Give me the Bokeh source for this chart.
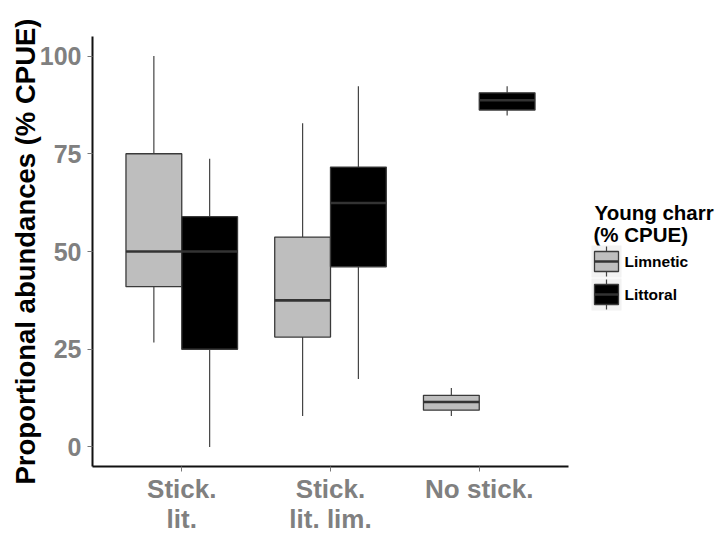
from bokeh.plotting import figure
from bokeh.layouts import row
from bokeh.models import Range1d, FixedTicker, ColumnDataSource
from bokeh.embed import file_html
from bokeh.resources import INLINE
from bokeh.core.properties import value

# Site categories along the x axis
categories = ["Stick.\nlit.", "Stick.\nlit. lim.", "No stick."]
positions = [1, 2, 3]

# Box-plot summaries (% CPUE): lower whisker, Q1, median, Q3, upper whisker
limnetic_low = [26.7, 7.9, 7.9]
limnetic_q1 = [41.0, 28.1, 9.4]
limnetic_median = [50.0, 37.5, 11.5]
limnetic_q3 = [75.0, 53.7, 13.2]
limnetic_high = [100.0, 82.8, 15.1]

littoral_low = [0.0, 17.4, 84.8]
littoral_q1 = [25.0, 46.1, 86.2]
littoral_median = [50.0, 62.4, 88.7]
littoral_q3 = [58.9, 71.6, 90.6]
littoral_high = [73.7, 92.3, 92.3]

series_names = ["Limnetic", "Littoral"]
y_ticks = [0, 25, 50, 75, 100]

FONT = "Liberation Sans"
BOX_W = 0.375
OUTLINE = "#3a3a3a"
fills = {"Limnetic": "#bebebe", "Littoral": "#000000"}

# frame geometry shared by the plot and the legend panel
TOP, FRAME_H, BOTTOM = 36, 430, 67

p = figure(
    frame_width=476, frame_height=FRAME_H,
    x_range=Range1d(0.4, 3.6), y_range=Range1d(-5, 105),
    output_backend="svg", toolbar_location=None,
    min_border_left=92, min_border_top=TOP, min_border_bottom=BOTTOM, min_border_right=12,
)

series = {
    "Limnetic": (limnetic_low, limnetic_q1, limnetic_median, limnetic_q3, limnetic_high, -BOX_W / 2),
    "Littoral": (littoral_low, littoral_q1, littoral_median, littoral_q3, littoral_high, BOX_W / 2),
}

for name in series_names:
    low, q1, med, q3, high, offset = series[name]
    xs = [x + offset for x in positions]
    src = ColumnDataSource(dict(
        x=xs,
        left=[x - BOX_W / 2 for x in xs],
        right=[x + BOX_W / 2 for x in xs],
        low=low, q1=q1, med=med, q3=q3, high=high,
    ))
    # whiskers
    p.segment(x0="x", x1="x", y0="low", y1="q1", source=src, line_color="#444444", line_width=1.2)
    p.segment(x0="x", x1="x", y0="q3", y1="high", source=src, line_color="#444444", line_width=1.2)
    # boxes
    p.quad(left="left", right="right", bottom="q1", top="q3", source=src,
           fill_color=fills[name], line_color=OUTLINE, line_width=1.3)
    # medians
    p.segment(x0="left", x1="right", y0="med", y1="med", source=src,
              line_color="#333333", line_width=2.6)

p.xgrid.visible = False
p.ygrid.visible = False
p.outline_line_color = None

p.xaxis.ticker = FixedTicker(ticks=positions)
p.xaxis.major_label_overrides = dict(zip(positions, categories))
p.yaxis.ticker = FixedTicker(ticks=y_ticks)

for ax in (p.xaxis[0], p.yaxis[0]):
    ax.axis_line_width = 2
    ax.axis_line_color = "#111111"
    ax.major_tick_in = 0
    ax.major_tick_out = 5
    ax.major_tick_line_color = "#777777"
    ax.minor_tick_line_color = None
    ax.major_label_text_font = FONT
    ax.major_label_text_font_style = "bold"
    ax.major_label_text_color = "#808080"

p.xaxis.major_label_text_font_size = "26px"
p.xaxis.major_label_text_line_height = 1.0
p.xaxis.major_label_standoff = 2
p.yaxis.major_label_text_font_size = "25px"
p.yaxis.major_label_standoff = 6

p.yaxis.axis_label = "Proportional abundances (% CPUE)"
p.yaxis.axis_label_text_font = FONT
p.yaxis.axis_label_text_font_size = "27.5px"
p.yaxis.axis_label_text_font_style = "bold"
p.yaxis.axis_label_text_color = "black"
p.yaxis.axis_label_standoff = -4

# Legend panel; its frame lines up with the plot frame, so the y range
# below maps straight onto page pixels (downwards)
leg = figure(frame_width=141, frame_height=FRAME_H,
             x_range=Range1d(580, 721), y_range=Range1d(TOP + FRAME_H, TOP),
             output_backend="svg", toolbar_location=None,
             min_border_left=0, min_border_right=0,
             min_border_top=TOP, min_border_bottom=BOTTOM)
leg.axis.visible = False
leg.grid.visible = False
leg.outline_line_color = None

leg.text(x=[594, 593], y=[212, 234], text=["Young charr", "(% CPUE)"],
         text_font=value(FONT), text_font_style="bold", text_font_size="20.5px",
         text_color="black", text_baseline="alphabetic")

key_x = 606
key_centers = [261, 294]
kb = ColumnDataSource(dict(
    cx=[key_x] * 2,
    left=[key_x - 15] * 2, right=[key_x + 15] * 2,
    bg_top=[c - 16 for c in key_centers], bg_bot=[c + 16 for c in key_centers],
    b_top=[c - 10 for c in key_centers], b_bot=[c + 10 for c in key_centers],
    w_top=[c - 15 for c in key_centers], w_bot=[c + 15 for c in key_centers],
    b_left=[key_x - 12] * 2, b_right=[key_x + 12] * 2,
    mid=key_centers, fill=[fills[n] for n in series_names],
    label=series_names, lx=[624] * 2,
))
leg.quad(left="left", right="right", top="bg_top", bottom="bg_bot", source=kb,
         fill_color="#f2f2f2", line_color=None)
leg.segment(x0="cx", x1="cx", y0="w_top", y1="w_bot", source=kb, line_color="#444444", line_width=1.2)
leg.quad(left="b_left", right="b_right", top="b_top", bottom="b_bot", source=kb,
         fill_color="fill", line_color=OUTLINE, line_width=1.3)
leg.segment(x0="b_left", x1="b_right", y0="mid", y1="mid", source=kb, line_color="#333333", line_width=2.4)
leg.text(x="lx", y="mid", text="label", source=kb, text_font=value(FONT), text_font_style="bold",
         text_font_size="15.5px", text_color="black", text_baseline="middle")

layout = row(p, leg)
open("out.html", "w").write(file_html(layout, INLINE))
